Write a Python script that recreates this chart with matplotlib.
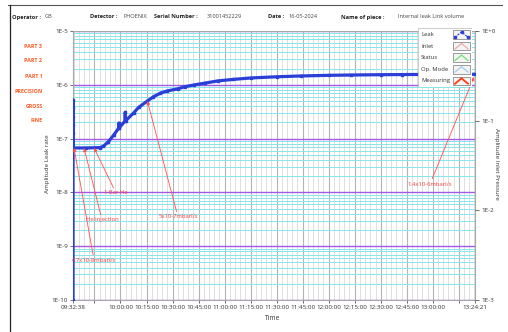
import math
import matplotlib
matplotlib.use("Agg")
import matplotlib.pyplot as plt
import matplotlib.dates as mdates
import matplotlib.ticker as mticker
from matplotlib.lines import Line2D
from matplotlib.patches import Rectangle
import pandas as pd

plt.rcParams['font.family'] = ['Open Sans', 'DejaVu Sans']

DAY = "2024-05-16 "

# leak rate curve (mbar.l/s)
leak_time = ["09:32:38", "09:32:38", "09:32:38", "09:32:38", "09:32:38", "09:32:38",
             "09:32:40", "09:40:00", "09:48:16", "09:50:11", "09:53:05", "09:55:59",
             "09:58:53", "09:59:05", "09:59:15", "10:02:30", "10:02:45", "10:03:00",
             "10:07:34", "10:10:28", "10:15:30", "10:19:00", "10:23:02", "10:27:00",
             "10:32:53", "10:37:00", "10:42:09", "10:49:00", "10:56:03", "11:05:00",
             "11:15:11", "11:30:00", "11:44:09", "12:00:00", "12:13:07", "12:30:00",
             "12:42:05", "13:00:00", "13:24:21"]
leak_rate = [1e-10, 5.2e-7, 3.7e-7, 2.5e-7, 1.8e-7, 1.26e-7,
             6.7e-8, 6.7e-8, 6.8e-8, 7.2e-8, 8.8e-8, 1.15e-7,
             1.55e-7, 1.95e-7, 1.58e-7, 2.1e-7, 3.1e-7, 2.15e-7,
             3.0e-7, 3.8e-7, 5.0e-7, 6.0e-7, 7.0e-7, 7.7e-7,
             8.4e-7, 9.2e-7, 9.9e-7, 1.08e-6, 1.18e-6, 1.26e-6,
             1.34e-6, 1.41e-6, 1.46e-6, 1.50e-6, 1.52e-6, 1.54e-6,
             1.55e-6, 1.56e-6, 1.57e-6]

# annotations
ann_text = ["6.7x10-8mbarl/s", "He injection", "1 Bar He", "5x10-7mbarl/s", "1.4x10-6mbarl/s"]
ann_time = ["09:33:13", "09:39:00", "09:44:48", "10:15:30", "13:23:47"]
ann_value = [6.7e-8, 6.7e-8, 6.7e-8, 5e-7, 1.4e-6]

t_start, t_end = "09:32:38", "13:24:21"
major_times = ["09:45:00", "10:00:00", "10:15:00", "10:30:00", "10:45:00", "11:00:00",
               "11:15:00", "11:30:00", "11:45:00", "12:00:00", "12:15:00", "12:30:00",
               "12:45:00", "13:00:00", "13:15:00"]
unlabelled = ["09:45:00", "13:15:00"]

side_labels = ["PART 3", "PART 2", "PART 1", "PRECISION", "GROSS", "FINE"]
legend_names = ["Leak", "Inlet", "Status", "Op. Mode", "Measuring"]
legend_colors = ["#2a3fd8", "#f0a8a8", "#6ee06e", "#9cccf0", "#ff3a10"]

header = [("Operator :", "GB"), ("Detector :", "PHOENIX"), ("Serial Number :", "31001452229"),
          ("Date :", "16-05-2024"), ("Name of piece :", "Internal leak Link volume")]


def td(s):
    return mdates.date2num(pd.to_datetime(DAY + s))


W, H = 508, 332
fig = plt.figure(figsize=(W / 100, H / 100), dpi=100)


def fx(px):
    return px / W


def fy(py):
    return 1 - py / H


# page frame
fig.add_artist(Line2D([fx(8), fx(502)], [fy(5), fy(5)], color="#555555", lw=0.8))
fig.add_artist(Line2D([fx(10), fx(10)], [fy(5), 0], color="#222222", lw=0.9))

# header
head_x = [(12, 45), (90, 123), (154, 207), (268, 289), (341, 398)]
for (lab, val), (x1, x2) in zip(header, head_x):
    fig.text(fx(x1), fy(17), lab, fontsize=4.1, fontweight="bold", color="#222222", va="center")
    fig.text(fx(x2), fy(17), val, fontsize=4.1, color="#444444", va="center")

# side labels
for i, s in enumerate(side_labels):
    fig.text(fx(42.5), fy(46 + 15 * i), s, fontsize=3.9, fontweight="bold",
             color="#ff5a24", ha="right", va="center")

ax = fig.add_axes([fx(73), fy(300), fx(475) - fx(73), fy(31) - fy(300)])
ax.set_yscale("log")
ax.set_ylim(1e-10, 1e-5)
ax.set_xlim(td(t_start), td(t_end))

# grid
ax.yaxis.set_major_locator(mticker.LogLocator(base=10, numticks=10))
ax.yaxis.set_minor_locator(mticker.LogLocator(base=10, subs=range(2, 10), numticks=20))
ax.yaxis.set_minor_formatter(mticker.NullFormatter())
ax.yaxis.set_major_formatter(mticker.FuncFormatter(lambda v, p: "1E%d" % round(math.log10(v))))
ax.grid(True, which="major", axis="y", color="#a35ae8", lw=1.0)
ax.grid(True, which="minor", axis="y", color="#86e6ea", lw=0.7)

xticks = [td(t_start)] + [td(t) for t in major_times] + [td(t_end)]
xlabels = [t_start] + ["" if t in unlabelled else t for t in major_times] + [t_end]
ax.set_xticks(xticks)
ax.set_xticklabels(xlabels)
ax.xaxis.set_minor_locator(mdates.MinuteLocator(byminute=range(0, 60, 3)))
ax.grid(True, which="major", axis="x", color="#b4b4b4", lw=0.8)
ax.grid(True, which="minor", axis="x", color="#dadada", lw=0.6)
ax.set_axisbelow(True)

ax.tick_params(axis="both", which="major", labelsize=4.5, colors="#333333", length=2, width=0.5, pad=1.5)
ax.tick_params(axis="both", which="minor", length=0)
for sp in ax.spines.values():
    sp.set_color("#a8a8a8")
    sp.set_linewidth(0.8)

# leak curve
lt = [td(t) for t in leak_time]
ax.plot(lt, leak_rate, color="#2a3fd8", lw=2.3, marker="s", ms=1.8, zorder=3)

# annotations
ann_xy_px = [(94, 260), (102, 220), (116, 193), (178, 217), (430, 184)]
for txt, t, v, (px, py) in zip(ann_text, ann_time, ann_value, ann_xy_px):
    ax.annotate(txt, xy=(td(t), v), xytext=(px, H - py), textcoords="figure pixels",
                fontsize=4.2, color="#ff3c3c", ha="center", va="center",
                arrowprops=dict(arrowstyle="-|>", color="#ff5050", lw=0.6,
                                mutation_scale=5, shrinkA=0, shrinkB=0),
                zorder=5)

# right axis
ax2 = ax.twinx()
ax2.set_yscale("log")
ax2.set_ylim(1e-3, 1e0)
ax2.set_yticks([1e-3, 1e-2, 1e-1, 1e0])
ax2.set_yticklabels(["1E-3", "1E-2", "1E-1", "1E+0"])
ax2.yaxis.set_minor_locator(mticker.NullLocator())
ax2.tick_params(axis="y", labelsize=4.5, colors="#333333", length=3, width=0.5, pad=1.5)
for sp in ax2.spines.values():
    sp.set_visible(False)

fig.text(fx(273), fy(318), "Time", fontsize=4.8, color="#333333", ha="center", va="center")
fig.text(fx(48), fy(164), "Amplitude Leak rate", fontsize=4.5, color="#333333",
         rotation=90, ha="center", va="center")
fig.text(fx(497), fy(164), "Amplitude Inlet Pressure", fontsize=4.5, color="#333333",
         rotation=270, ha="center", va="center")

# legend box
lax = fig.add_axes([fx(418), fy(87), fx(472) - fx(418), fy(28) - fy(87)])
lax.set_xlim(0, 54)
lax.set_ylim(59, 0)
lax.axis("off")
lax.add_patch(Rectangle((0.3, 0.3), 53.4, 58.4, facecolor="white", edgecolor="#c4c4c4", lw=0.6))
for i, (name, col) in enumerate(zip(legend_names, legend_colors)):
    cy = 6.5 + 11.6 * i
    lax.text(3, cy, name, fontsize=4.2, color="#333333", va="center")
    lax.add_patch(Rectangle((35, cy - 4.3), 17, 8.6, facecolor="#f4f4f4", edgecolor="#8c8c8c", lw=0.6))
    xs, ys = [37, 43.5, 50], [cy + 2.8, cy - 2.6, cy + 2.8]
    if i == 0:
        lax.plot(xs, ys, color=col, lw=0.8, ls=(0, (2, 1)), marker="s", ms=1.5)
    else:
        lax.plot(xs, ys, color=col, lw=1.3 if i == 4 else 0.9)

fig.savefig("out.png", dpi=100)
